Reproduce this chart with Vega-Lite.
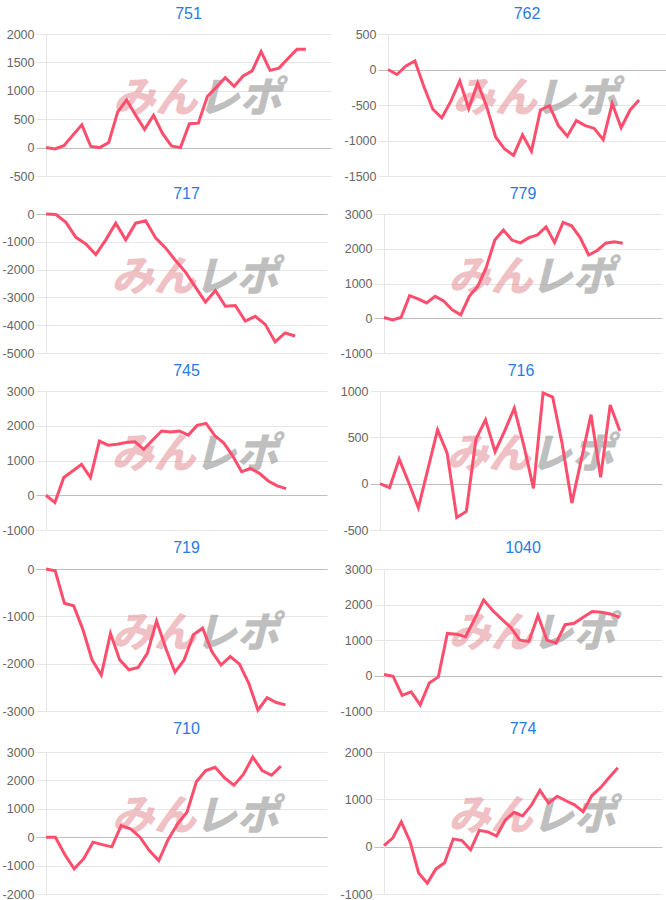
{
"$schema": "https://vega.github.io/schema/vega-lite/v6.json",
"background": "white",
"padding": {"left": 2, "top": 6, "right": 0, "bottom": 0},
"config": {
 "view": {"stroke": null},
 "font": "Liberation Sans",
 "title": {"color": "#2a7ae2", "fontSize": 16, "fontWeight": "normal", "font": "Liberation Sans", "offset": 6, "frame": "group", "anchor": "middle"},
 "axis": {"labelFont": "Liberation Sans", "labelFontSize": 12.5, "labelColor": "#666666", "tickSize": 10, "labelPadding": 2, "domainColor": "#e6e6e6", "title": null, "grid": true, "ticks": true, "labelOverlap": false, "labelExpr": "'' + datum.value",
   "gridColor": {"condition": {"test": "datum.value === 0", "value": "#bfbfbf"}, "value": "#e6e6e6"},
   "tickColor": {"condition": {"test": "datum.value === 0", "value": "#bfbfbf"}, "value": "#e6e6e6"}},
 "line": {"color": "#ff4d6d", "strokeWidth": 3},
 "text": {"font": "Noto Sans CJK JP", "fontSize": 42, "fontWeight": 900, "fontStyle": "italic"}
},
"datasets": {
 "c751": [{"d":0,"v":0},{"d":1,"v":-25},{"d":2,"v":35},{"d":3,"v":220},{"d":4,"v":400},{"d":5,"v":20},{"d":6,"v":0},{"d":7,"v":90},{"d":8,"v":630},{"d":9,"v":840},{"d":10,"v":570},{"d":11,"v":320},{"d":12,"v":570},{"d":13,"v":250},{"d":14,"v":30},{"d":15,"v":0},{"d":16,"v":420},{"d":17,"v":430},{"d":18,"v":900},{"d":19,"v":1060},{"d":20,"v":1230},{"d":21,"v":1080},{"d":22,"v":1260},{"d":23,"v":1350},{"d":24,"v":1690},{"d":25,"v":1360},{"d":26,"v":1400},{"d":27,"v":1570},{"d":28,"v":1730},{"d":29,"v":1730}],
 "c762": [{"d":0,"v":0},{"d":1,"v":-70},{"d":2,"v":50},{"d":3,"v":120},{"d":4,"v":-240},{"d":5,"v":-560},{"d":6,"v":-680},{"d":7,"v":-450},{"d":8,"v":-160},{"d":9,"v":-550},{"d":10,"v":-190},{"d":11,"v":-520},{"d":12,"v":-950},{"d":13,"v":-1120},{"d":14,"v":-1210},{"d":15,"v":-920},{"d":16,"v":-1150},{"d":17,"v":-570},{"d":18,"v":-510},{"d":19,"v":-790},{"d":20,"v":-940},{"d":21,"v":-720},{"d":22,"v":-790},{"d":23,"v":-830},{"d":24,"v":-990},{"d":25,"v":-480},{"d":26,"v":-820},{"d":27,"v":-570},{"d":28,"v":-430}],
 "c717": [{"d":0,"v":0},{"d":1,"v":-20},{"d":2,"v":-300},{"d":3,"v":-840},{"d":4,"v":-1080},{"d":5,"v":-1460},{"d":6,"v":-930},{"d":7,"v":-330},{"d":8,"v":-930},{"d":9,"v":-330},{"d":10,"v":-240},{"d":11,"v":-860},{"d":12,"v":-1220},{"d":13,"v":-1670},{"d":14,"v":-2090},{"d":15,"v":-2630},{"d":16,"v":-3170},{"d":17,"v":-2750},{"d":18,"v":-3320},{"d":19,"v":-3290},{"d":20,"v":-3850},{"d":21,"v":-3680},{"d":22,"v":-3970},{"d":23,"v":-4600},{"d":24,"v":-4280},{"d":25,"v":-4390}],
 "c779": [{"d":0,"v":20},{"d":1,"v":-50},{"d":2,"v":20},{"d":3,"v":650},{"d":4,"v":560},{"d":5,"v":440},{"d":6,"v":630},{"d":7,"v":500},{"d":8,"v":240},{"d":9,"v":100},{"d":10,"v":630},{"d":11,"v":920},{"d":12,"v":1470},{"d":13,"v":2250},{"d":14,"v":2540},{"d":15,"v":2250},{"d":16,"v":2170},{"d":17,"v":2320},{"d":18,"v":2400},{"d":19,"v":2630},{"d":20,"v":2180},{"d":21,"v":2760},{"d":22,"v":2660},{"d":23,"v":2320},{"d":24,"v":1820},{"d":25,"v":1950},{"d":26,"v":2160},{"d":27,"v":2200},{"d":28,"v":2160}],
 "c745": [{"d":0,"v":0},{"d":1,"v":-210},{"d":2,"v":510},{"d":3,"v":700},{"d":4,"v":890},{"d":5,"v":510},{"d":6,"v":1560},{"d":7,"v":1440},{"d":8,"v":1470},{"d":9,"v":1520},{"d":10,"v":1540},{"d":11,"v":1320},{"d":12,"v":1590},{"d":13,"v":1850},{"d":14,"v":1820},{"d":15,"v":1850},{"d":16,"v":1730},{"d":17,"v":2010},{"d":18,"v":2070},{"d":19,"v":1710},{"d":20,"v":1500},{"d":21,"v":1130},{"d":22,"v":680},{"d":23,"v":770},{"d":24,"v":630},{"d":25,"v":410},{"d":26,"v":270},{"d":27,"v":190}],
 "c716": [{"d":0,"v":0},{"d":1,"v":-45},{"d":2,"v":265},{"d":3,"v":10},{"d":4,"v":-260},{"d":5,"v":160},{"d":6,"v":580},{"d":7,"v":330},{"d":8,"v":-365},{"d":9,"v":-300},{"d":10,"v":480},{"d":11,"v":690},{"d":12,"v":345},{"d":13,"v":570},{"d":14,"v":815},{"d":15,"v":410},{"d":16,"v":-50},{"d":17,"v":980},{"d":18,"v":935},{"d":19,"v":425},{"d":20,"v":-210},{"d":21,"v":265},{"d":22,"v":745},{"d":23,"v":70},{"d":24,"v":850},{"d":25,"v":570}],
 "c719": [{"d":0,"v":0},{"d":1,"v":-40},{"d":2,"v":-725},{"d":3,"v":-775},{"d":4,"v":-1275},{"d":5,"v":-1920},{"d":6,"v":-2240},{"d":7,"v":-1360},{"d":8,"v":-1920},{"d":9,"v":-2130},{"d":10,"v":-2080},{"d":11,"v":-1780},{"d":12,"v":-1100},{"d":13,"v":-1675},{"d":14,"v":-2180},{"d":15,"v":-1920},{"d":16,"v":-1390},{"d":17,"v":-1250},{"d":18,"v":-1745},{"d":19,"v":-2030},{"d":20,"v":-1850},{"d":21,"v":-2010},{"d":22,"v":-2410},{"d":23,"v":-2980},{"d":24,"v":-2720},{"d":25,"v":-2820},{"d":26,"v":-2870}],
 "c1040": [{"d":0,"v":30},{"d":1,"v":-20},{"d":2,"v":-560},{"d":3,"v":-460},{"d":4,"v":-825},{"d":5,"v":-210},{"d":6,"v":-40},{"d":7,"v":1185},{"d":8,"v":1165},{"d":9,"v":1090},{"d":10,"v":1590},{"d":11,"v":2130},{"d":12,"v":1830},{"d":13,"v":1590},{"d":14,"v":1355},{"d":15,"v":995},{"d":16,"v":960},{"d":17,"v":1690},{"d":18,"v":995},{"d":19,"v":910},{"d":20,"v":1430},{"d":21,"v":1470},{"d":22,"v":1640},{"d":23,"v":1800},{"d":24,"v":1780},{"d":25,"v":1735},{"d":26,"v":1640}],
 "c710": [{"d":0,"v":0},{"d":1,"v":0},{"d":2,"v":-610},{"d":3,"v":-1115},{"d":4,"v":-765},{"d":5,"v":-175},{"d":6,"v":-260},{"d":7,"v":-340},{"d":8,"v":410},{"d":9,"v":295},{"d":10,"v":0},{"d":11,"v":-470},{"d":12,"v":-820},{"d":13,"v":-80},{"d":14,"v":470},{"d":15,"v":880},{"d":16,"v":1950},{"d":17,"v":2350},{"d":18,"v":2460},{"d":19,"v":2090},{"d":20,"v":1830},{"d":21,"v":2210},{"d":22,"v":2820},{"d":23,"v":2350},{"d":24,"v":2180},{"d":25,"v":2500}],
 "c774": [{"d":0,"v":20},{"d":1,"v":180},{"d":2,"v":525},{"d":3,"v":110},{"d":4,"v":-555},{"d":5,"v":-770},{"d":6,"v":-470},{"d":7,"v":-340},{"d":8,"v":165},{"d":9,"v":130},{"d":10,"v":-65},{"d":11,"v":345},{"d":12,"v":310},{"d":13,"v":225},{"d":14,"v":560},{"d":15,"v":725},{"d":16,"v":650},{"d":17,"v":870},{"d":18,"v":1190},{"d":19,"v":920},{"d":20,"v":1065},{"d":21,"v":970},{"d":22,"v":885},{"d":23,"v":740},{"d":24,"v":1080},{"d":25,"v":1245},{"d":26,"v":1460},{"d":27,"v":1665}],
 "wm1": [{"w": "みん"}],
 "wm2": [{"w": "レポ"}]
},
"spacing": 3,
"vconcat": [
 {"spacing": 13, "hconcat": [
  {"title": "751", "width": 285, "height": 142, "layer": [
   {"data": {"name": "wm1"}, "mark": {"type": "text", "color": "#e38d94", "opacity": 0.55}, "encoding": {"x": {"datum": 12.2, "type": "quantitative", "axis": null}, "y": {"datum": 850, "type": "quantitative", "axis": {"values": [-500, 0, 500, 1000, 1500, 2000]}}, "text": {"field": "w"}}},
   {"data": {"name": "wm2"}, "mark": {"type": "text", "color": "#8c8c8c", "opacity": 0.55}, "encoding": {"x": {"datum": 21.6, "type": "quantitative", "axis": null}, "y": {"datum": 850, "type": "quantitative", "axis": {"values": [-500, 0, 500, 1000, 1500, 2000]}}, "text": {"field": "w"}}},
   {"data": {"name": "c751"}, "mark": {"type": "line"}, "encoding": {
    "x": {"field": "d", "type": "quantitative", "scale": {"domain": [0, 31.8], "nice": false, "zero": false}, "axis": null},
    "y": {"field": "v", "type": "quantitative", "scale": {"domain": [-500, 2000], "nice": false, "zero": false}, "axis": {"values": [-500, 0, 500, 1000, 1500, 2000]}}}}
  ]},
  {"title": "762", "width": 278, "height": 142, "layer": [
   {"data": {"name": "wm1"}, "mark": {"type": "text", "color": "#e38d94", "opacity": 0.55}, "encoding": {"x": {"datum": 11.9, "type": "quantitative", "axis": null}, "y": {"datum": -420, "type": "quantitative", "axis": {"values": [-1500, -1000, -500, 0, 500]}}, "text": {"field": "w"}}},
   {"data": {"name": "wm2"}, "mark": {"type": "text", "color": "#8c8c8c", "opacity": 0.55}, "encoding": {"x": {"datum": 21.0, "type": "quantitative", "axis": null}, "y": {"datum": -420, "type": "quantitative", "axis": {"values": [-1500, -1000, -500, 0, 500]}}, "text": {"field": "w"}}},
   {"data": {"name": "c762"}, "mark": {"type": "line"}, "encoding": {
    "x": {"field": "d", "type": "quantitative", "scale": {"domain": [0, 31.0], "nice": false, "zero": false}, "axis": null},
    "y": {"field": "v", "type": "quantitative", "scale": {"domain": [-1500, 500], "nice": false, "zero": false}, "axis": {"values": [-1500, -1000, -500, 0, 500]}}}}
  ]}
 ]},
 {"spacing": 13, "hconcat": [
  {"title": "717", "width": 281, "height": 139, "layer": [
   {"data": {"name": "wm1"}, "mark": {"type": "text", "color": "#e38d94", "opacity": 0.55}, "encoding": {"x": {"datum": 10.8, "type": "quantitative", "axis": null}, "y": {"datum": -2300, "type": "quantitative", "axis": {"values": [-5000, -4000, -3000, -2000, -1000, 0]}}, "text": {"field": "w"}}},
   {"data": {"name": "wm2"}, "mark": {"type": "text", "color": "#8c8c8c", "opacity": 0.55}, "encoding": {"x": {"datum": 19.1, "type": "quantitative", "axis": null}, "y": {"datum": -2300, "type": "quantitative", "axis": {"values": [-5000, -4000, -3000, -2000, -1000, 0]}}, "text": {"field": "w"}}},
   {"data": {"name": "c717"}, "mark": {"type": "line"}, "encoding": {
    "x": {"field": "d", "type": "quantitative", "scale": {"domain": [0, 28.2], "nice": false, "zero": false}, "axis": null},
    "y": {"field": "v", "type": "quantitative", "scale": {"domain": [-5000, 0], "nice": false, "zero": false}, "axis": {"values": [-5000, -4000, -3000, -2000, -1000, 0]}}}}
  ]},
  {"title": "779", "width": 278, "height": 139, "layer": [
   {"data": {"name": "wm1"}, "mark": {"type": "text", "color": "#e38d94", "opacity": 0.55}, "encoding": {"x": {"datum": 12.5, "type": "quantitative", "axis": null}, "y": {"datum": 1160, "type": "quantitative", "axis": {"values": [-1000, 0, 1000, 2000, 3000]}}, "text": {"field": "w"}}},
   {"data": {"name": "wm2"}, "mark": {"type": "text", "color": "#8c8c8c", "opacity": 0.55}, "encoding": {"x": {"datum": 22.1, "type": "quantitative", "axis": null}, "y": {"datum": 1160, "type": "quantitative", "axis": {"values": [-1000, 0, 1000, 2000, 3000]}}, "text": {"field": "w"}}},
   {"data": {"name": "c779"}, "mark": {"type": "line"}, "encoding": {
    "x": {"field": "d", "type": "quantitative", "scale": {"domain": [0, 32.6], "nice": false, "zero": false}, "axis": null},
    "y": {"field": "v", "type": "quantitative", "scale": {"domain": [-1000, 3000], "nice": false, "zero": false}, "axis": {"values": [-1000, 0, 1000, 2000, 3000]}}}}
  ]}
 ]},
 {"spacing": 13, "hconcat": [
  {"title": "745", "width": 281, "height": 139, "layer": [
   {"data": {"name": "wm1"}, "mark": {"type": "text", "color": "#e38d94", "opacity": 0.55}, "encoding": {"x": {"datum": 12.1, "type": "quantitative", "axis": null}, "y": {"datum": 1160, "type": "quantitative", "axis": {"values": [-1000, 0, 1000, 2000, 3000]}}, "text": {"field": "w"}}},
   {"data": {"name": "wm2"}, "mark": {"type": "text", "color": "#8c8c8c", "opacity": 0.55}, "encoding": {"x": {"datum": 21.4, "type": "quantitative", "axis": null}, "y": {"datum": 1160, "type": "quantitative", "axis": {"values": [-1000, 0, 1000, 2000, 3000]}}, "text": {"field": "w"}}},
   {"data": {"name": "c745"}, "mark": {"type": "line"}, "encoding": {
    "x": {"field": "d", "type": "quantitative", "scale": {"domain": [0, 31.6], "nice": false, "zero": false}, "axis": null},
    "y": {"field": "v", "type": "quantitative", "scale": {"domain": [-1000, 3000], "nice": false, "zero": false}, "axis": {"values": [-1000, 0, 1000, 2000, 3000]}}}}
  ]},
  {"title": "716", "width": 282, "height": 139, "layer": [
   {"data": {"name": "wm1"}, "mark": {"type": "text", "color": "#e38d94", "opacity": 0.55}, "encoding": {"x": {"datum": 11.3, "type": "quantitative", "axis": null}, "y": {"datum": 310, "type": "quantitative", "axis": {"values": [-500, 0, 500, 1000]}}, "text": {"field": "w"}}},
   {"data": {"name": "wm2"}, "mark": {"type": "text", "color": "#8c8c8c", "opacity": 0.55}, "encoding": {"x": {"datum": 20.0, "type": "quantitative", "axis": null}, "y": {"datum": 310, "type": "quantitative", "axis": {"values": [-500, 0, 500, 1000]}}, "text": {"field": "w"}}},
   {"data": {"name": "c716"}, "mark": {"type": "line"}, "encoding": {
    "x": {"field": "d", "type": "quantitative", "scale": {"domain": [0, 29.4], "nice": false, "zero": false}, "axis": null},
    "y": {"field": "v", "type": "quantitative", "scale": {"domain": [-500, 1000], "nice": false, "zero": false}, "axis": {"values": [-500, 0, 500, 1000]}}}}
  ]}
 ]},
 {"spacing": 13, "hconcat": [
  {"title": {"text": "719", "offset": 7}, "width": 281, "height": 142, "layer": [
   {"data": {"name": "wm1"}, "mark": {"type": "text", "color": "#e38d94", "opacity": 0.55}, "encoding": {"x": {"datum": 11.7, "type": "quantitative", "axis": null}, "y": {"datum": -1380, "type": "quantitative", "axis": {"values": [-3000, -2000, -1000, 0]}}, "text": {"field": "w"}}},
   {"data": {"name": "wm2"}, "mark": {"type": "text", "color": "#8c8c8c", "opacity": 0.55}, "encoding": {"x": {"datum": 20.7, "type": "quantitative", "axis": null}, "y": {"datum": -1380, "type": "quantitative", "axis": {"values": [-3000, -2000, -1000, 0]}}, "text": {"field": "w"}}},
   {"data": {"name": "c719"}, "mark": {"type": "line"}, "encoding": {
    "x": {"field": "d", "type": "quantitative", "scale": {"domain": [0, 30.5], "nice": false, "zero": false}, "axis": null},
    "y": {"field": "v", "type": "quantitative", "scale": {"domain": [-3000, 0], "nice": false, "zero": false}, "axis": {"values": [-3000, -2000, -1000, 0]}}}}
  ]},
  {"title": {"text": "1040", "offset": 7}, "width": 278, "height": 142, "layer": [
   {"data": {"name": "wm1"}, "mark": {"type": "text", "color": "#e38d94", "opacity": 0.55}, "encoding": {"x": {"datum": 11.8, "type": "quantitative", "axis": null}, "y": {"datum": 1160, "type": "quantitative", "axis": {"values": [-1000, 0, 1000, 2000, 3000]}}, "text": {"field": "w"}}},
   {"data": {"name": "wm2"}, "mark": {"type": "text", "color": "#8c8c8c", "opacity": 0.55}, "encoding": {"x": {"datum": 20.9, "type": "quantitative", "axis": null}, "y": {"datum": 1160, "type": "quantitative", "axis": {"values": [-1000, 0, 1000, 2000, 3000]}}, "text": {"field": "w"}}},
   {"data": {"name": "c1040"}, "mark": {"type": "line"}, "encoding": {
    "x": {"field": "d", "type": "quantitative", "scale": {"domain": [0, 30.7], "nice": false, "zero": false}, "axis": null},
    "y": {"field": "v", "type": "quantitative", "scale": {"domain": [-1000, 3000], "nice": false, "zero": false}, "axis": {"values": [-1000, 0, 1000, 2000, 3000]}}}}
  ]}
 ]},
 {"spacing": 13, "hconcat": [
  {"title": {"text": "710", "offset": 9}, "width": 281, "height": 142, "layer": [
   {"data": {"name": "wm1"}, "mark": {"type": "text", "color": "#e38d94", "opacity": 0.55}, "encoding": {"x": {"datum": 11.5, "type": "quantitative", "axis": null}, "y": {"datum": 700, "type": "quantitative", "axis": {"values": [-2000, -1000, 0, 1000, 2000, 3000]}}, "text": {"field": "w"}}},
   {"data": {"name": "wm2"}, "mark": {"type": "text", "color": "#8c8c8c", "opacity": 0.55}, "encoding": {"x": {"datum": 20.3, "type": "quantitative", "axis": null}, "y": {"datum": 700, "type": "quantitative", "axis": {"values": [-2000, -1000, 0, 1000, 2000, 3000]}}, "text": {"field": "w"}}},
   {"data": {"name": "c710"}, "mark": {"type": "line"}, "encoding": {
    "x": {"field": "d", "type": "quantitative", "scale": {"domain": [0, 29.9], "nice": false, "zero": false}, "axis": null},
    "y": {"field": "v", "type": "quantitative", "scale": {"domain": [-2000, 3000], "nice": false, "zero": false}, "axis": {"values": [-2000, -1000, 0, 1000, 2000, 3000]}}}}
  ]},
  {"title": {"text": "774", "offset": 9}, "width": 278, "height": 142, "layer": [
   {"data": {"name": "wm1"}, "mark": {"type": "text", "color": "#e38d94", "opacity": 0.55}, "encoding": {"x": {"datum": 12.3, "type": "quantitative", "axis": null}, "y": {"datum": 620, "type": "quantitative", "axis": {"values": [-1000, 0, 1000, 2000]}}, "text": {"field": "w"}}},
   {"data": {"name": "wm2"}, "mark": {"type": "text", "color": "#8c8c8c", "opacity": 0.55}, "encoding": {"x": {"datum": 21.9, "type": "quantitative", "axis": null}, "y": {"datum": 620, "type": "quantitative", "axis": {"values": [-1000, 0, 1000, 2000]}}, "text": {"field": "w"}}},
   {"data": {"name": "c774"}, "mark": {"type": "line"}, "encoding": {
    "x": {"field": "d", "type": "quantitative", "scale": {"domain": [0, 32.1], "nice": false, "zero": false}, "axis": null},
    "y": {"field": "v", "type": "quantitative", "scale": {"domain": [-1000, 2000], "nice": false, "zero": false}, "axis": {"values": [-1000, 0, 1000, 2000]}}}}
  ]}
 ]}
]
}
